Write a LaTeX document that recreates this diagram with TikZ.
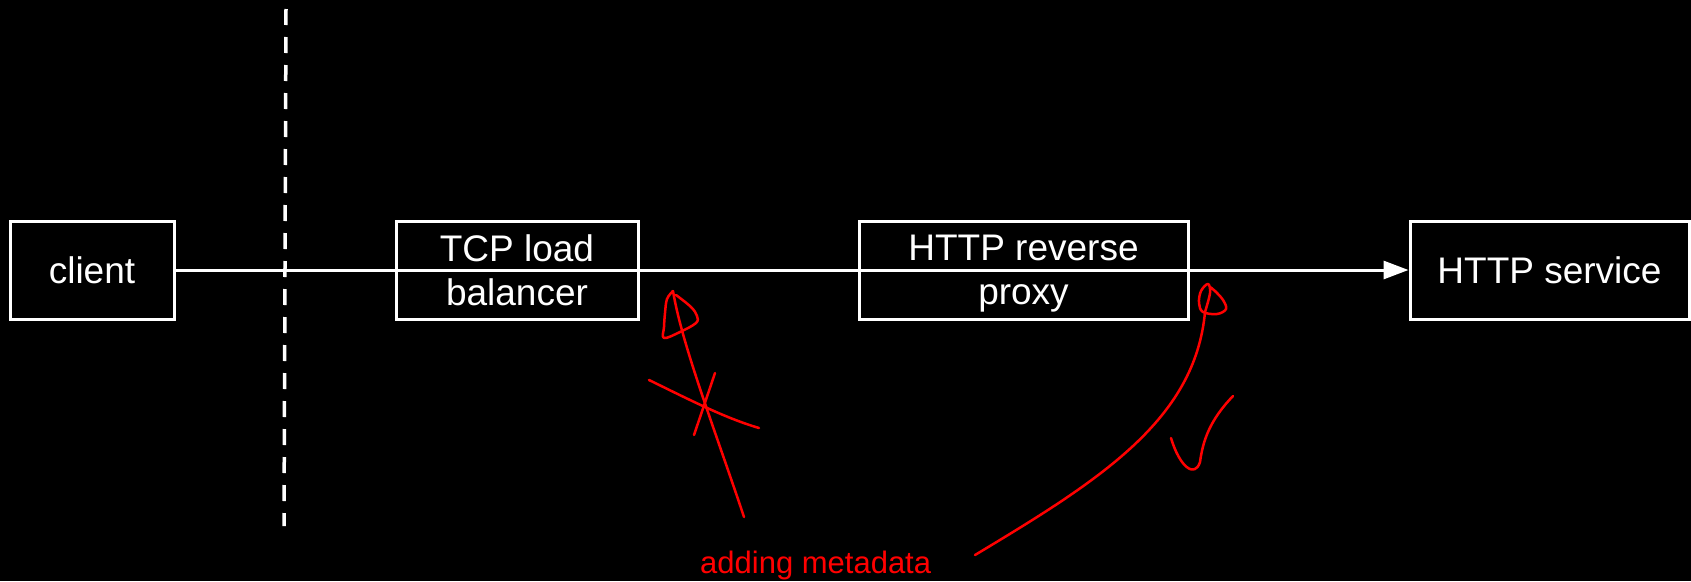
\documentclass[tikz,border=0pt]{standalone}
\usepackage{fontspec}
\setmainfont{Liberation Sans}
\usetikzlibrary{arrows.meta}

\tikzset{
  box/.style={draw=white, line width=3pt, text=white, align=center,
    minimum height=98pt, inner sep=0pt,
    font=\fontsize{37}{44}\selectfont},
  wire/.style={draw=white, line width=3pt},
  cutline/.style={draw=white, line width=3.5pt, dash pattern=on 16pt off 12pt},
  ink/.style={draw=red, line width=2.5pt, line cap=round, line join=round},
  note/.style={text=red, font=\fontsize{31}{36}\selectfont, inner sep=0pt}
}

\begin{document}
\begin{tikzpicture}[x=1pt, y=-1pt]
  % canvas
  \fill[black] (0,0) rectangle (1691,581);
  \useasboundingbox (0,0) rectangle (1691,581);

  % components along the request path
  \node[box, minimum width=164pt] (client)  at (92,270)     {client};
  \node[box, minimum width=242pt, text depth=0pt] (tcp) at (517,270) {TCP load\\balancer};
  \node[box, minimum width=329pt, text depth=0pt] (proxy) at (1023.5,270) {HTTP reverse\\proxy};
  \node[box, minimum width=279pt] (service) at (1549.5,270) {HTTP service};

  % network boundary
  \coordinate (cutTop) at (286,9);
  \coordinate (cutBot) at (284,526);
  \draw[cutline] (cutTop) -- (cutBot);

  % request flow
  \draw[wire, -{Triangle[length=25pt, width=18pt]}] (client.east) -- (service.west);

  % hand-drawn annotation
  \node[note, anchor=base west] (meta) at (700,573) {adding metadata};

  % stroke to the load balancer (crossed out)
  \coordinate (lbTip) at (673,291);
  \draw[ink] (744,517) .. controls (715,430) and (682,345) .. (lbTip);
  \draw[ink] plot[smooth, tension=0.6] coordinates {
    (lbTip) (667,299) (665,313) (664,327) (664,338) (680,332) (696,323)
    (697,316) (691,307) (676,295)};
  \draw[ink] (649,380) .. controls (690,400) and (725,418) .. (759,428);
  \draw[ink] (715,373) -- (694,435);

  % stroke to the reverse proxy
  \coordinate (rpTip) at (1205,312);
  \draw[ink] (975,555) .. controls (1100,480) and (1195,420) .. (rpTip);
  \draw[ink] plot[smooth, tension=0.6] coordinates {
    (rpTip) (1210,293) (1208,284) (1201,291) (1199,303) (1203,312)
    (1217,314) (1226,309) (1223,300) (1215,291) (1210,287)};
  % tick mark
  \draw[ink] (1171,438) .. controls (1180,468) and (1195,478) .. (1200,462)
    .. controls (1203,440) and (1210,420) .. (1233,396);
\end{tikzpicture}
\end{document}
